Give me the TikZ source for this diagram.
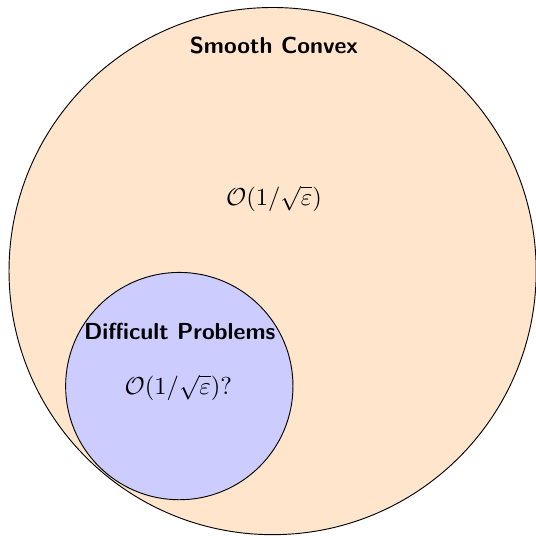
\documentclass[tikz,border=0pt]{standalone}
\usepackage{amsmath}
\begin{document}
\begin{tikzpicture}[
  bigset/.style={circle,draw=black,fill=orange!20,minimum size=8cm,inner sep=0pt},
  smallset/.style={circle,draw=black,fill=blue!20,minimum size=3.45cm,inner sep=0pt},
  setlabel/.style={font=\sffamily\bfseries,inner sep=1pt},
  ratelabel/.style={inner sep=1pt,scale=1.06}
]
\useasboundingbox (-4.137,-4.005) rectangle (3.997,4.114);
\node[bigset] (big) at (0,0) {};
\node[smallset] (small) at (-1.416,-1.745) {};
\node[setlabel] (smoothlbl) at (0.02,3.43) {Smooth Convex};
\node[ratelabel] (smoothrate) at (0.02,1.1) {$\mathcal{O}(1/\sqrt{\varepsilon})$};
\node[setlabel] (difflbl) at (-1.41,-0.91) {Difficult Problems};
\node[ratelabel] (diffrate) at (-1.43,-1.77) {$\mathcal{O}(1/\sqrt{\varepsilon})$?};
\end{tikzpicture}
\end{document}
